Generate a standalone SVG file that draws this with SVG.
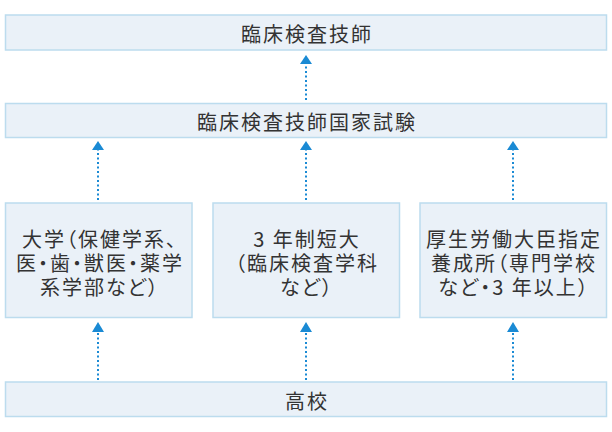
<svg xmlns="http://www.w3.org/2000/svg" width="612" height="432" viewBox="0 0 612 432">
<defs>
<style>
.box{fill:#EAF1F8;stroke:#BCDCEE;stroke-width:1.5}
.t{font-family:"Noto Sans CJK JP","Noto Sans",sans-serif;font-size:20px;fill:#333;text-anchor:middle;dominant-baseline:central;letter-spacing:2px;font-feature-settings:"palt" 1}
.c{stroke:#1A8AD4;stroke-width:2;stroke-dasharray:2 2.5;fill:none}
.a{fill:#1A8AD4}
</style>
</defs>
<rect width="612" height="432" fill="#fff"/>
<g id="connectors">
<line class="c" x1="306" y1="100" x2="306" y2="64"/>
<path class="a" d="M300,64 L306,55 L312,64 Z"/>
<line class="c" x1="98" y1="200" x2="98" y2="150"/>
<path class="a" d="M92,150 L98,141 L104,150 Z"/>
<line class="c" x1="306" y1="200" x2="306" y2="150"/>
<path class="a" d="M300,150 L306,141 L312,150 Z"/>
<line class="c" x1="513" y1="200" x2="513" y2="150"/>
<path class="a" d="M507,150 L513,141 L519,150 Z"/>
<line class="c" x1="98" y1="380" x2="98" y2="331"/>
<path class="a" d="M92,332 L98,322 L104,332 Z"/>
<line class="c" x1="306" y1="380" x2="306" y2="331"/>
<path class="a" d="M300,332 L306,322 L312,332 Z"/>
<line class="c" x1="513" y1="380" x2="513" y2="331"/>
<path class="a" d="M507,332 L513,322 L519,332 Z"/>
</g>
<g id="n-gishi">
<rect class="box" x="5.5" y="15" width="601" height="35"/>
<text class="t" x="307" y="33">臨床検査技師</text>
</g>
<g id="n-exam">
<rect class="box" x="5.5" y="103.5" width="601" height="34"/>
<text class="t" x="307" y="121">臨床検査技師国家試験</text>
</g>
<g id="n-univ">
<rect class="box" x="5.5" y="203" width="186.5" height="114.5"/>
<text class="t" x="100" y="238">大学（保健学系、</text>
<text class="t" x="100" y="262">医・歯・獣医・薬学</text>
<text class="t" x="100" y="286">系学部など）</text>
</g>
<g id="n-tandai">
<rect class="box" x="213" y="203" width="186.5" height="114.5"/>
<text class="t" x="307" y="238">3 年制短大</text>
<text class="t" x="307" y="262">（臨床検査学科</text>
<text class="t" x="307" y="286">など）</text>
</g>
<g id="n-senmon">
<rect class="box" x="420" y="203" width="186.5" height="114.5"/>
<text class="t" x="514" y="238">厚生労働大臣指定</text>
<text class="t" x="514" y="262">養成所（専門学校</text>
<text class="t" x="514" y="286">など・3 年以上）</text>
</g>
<g id="n-koko">
<rect class="box" x="5.5" y="382" width="601" height="34.5"/>
<text class="t" x="307" y="400">高校</text>
</g>
</svg>
